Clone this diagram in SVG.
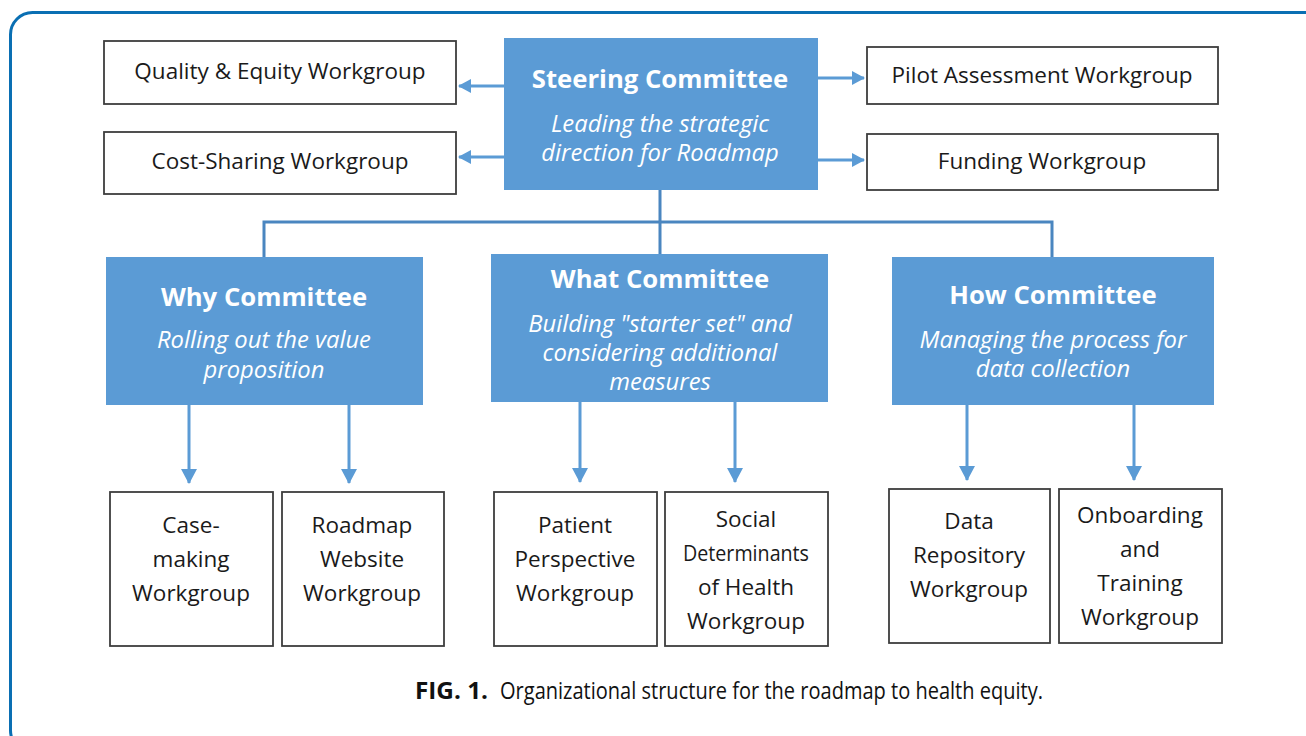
<svg xmlns="http://www.w3.org/2000/svg" width="1306" height="736" viewBox="0 0 1306 736">
<style>
.wg{fill:#fff;stroke:#3d3d3d;stroke-width:1.8}
.cm{fill:#5b9bd5;stroke:none}
.t{font-family:"Open Sans","Noto Sans","Liberation Sans",sans-serif;font-size:22.5px;fill:#1a1a1a;text-anchor:middle}
.h{font-family:"Open Sans","Noto Sans","Liberation Sans",sans-serif;font-size:25.7px;font-weight:bold;fill:#fff;text-anchor:middle}
.s{font-family:"Open Sans","Noto Sans","Liberation Sans",sans-serif;font-size:23.8px;font-style:italic;fill:#fff;text-anchor:middle}
.ar{fill:none;stroke:#5b9bd5;stroke-width:3}
.tr{fill:none;stroke:#4a86c0;stroke-width:3}
.cap{font-family:"Open Sans","Noto Sans","Liberation Sans",sans-serif;font-size:23px;fill:#111}
</style>
<defs>
<marker id="ah" markerUnits="userSpaceOnUse" markerWidth="18" markerHeight="18" refX="14" refY="9" orient="auto">
<path d="M0,1 L15,9 L0,17 Z" fill="#5b9bd5"/>
</marker>
<marker id="ahs" markerUnits="userSpaceOnUse" markerWidth="16" markerHeight="16" refX="12" refY="7" orient="auto">
<path d="M0,0 L13,7 L0,14 Z" fill="#5b9bd5"/>
</marker>
</defs>
<rect x="0" y="0" width="1306" height="736" fill="#fff"/>
<rect x="10.5" y="12.5" width="1316" height="740" rx="22" fill="none" stroke="#0a6fb3" stroke-width="3"/>

<g id="connectors">
<line class="ar" x1="504" y1="86" x2="459" y2="86" marker-end="url(#ahs)"/>
<line class="ar" x1="504" y1="157" x2="459" y2="157" marker-end="url(#ahs)"/>
<line class="ar" x1="818" y1="78" x2="864" y2="78" marker-end="url(#ahs)"/>
<line class="ar" x1="818" y1="160" x2="864" y2="160" marker-end="url(#ahs)"/>
<path class="tr" d="M660,190 V254 M264,257 V222 H1052 V257"/>
<line class="ar" x1="189" y1="405" x2="189" y2="483" marker-end="url(#ah)"/>
<line class="ar" x1="349" y1="405" x2="349" y2="483" marker-end="url(#ah)"/>
<line class="ar" x1="580" y1="402" x2="580" y2="482" marker-end="url(#ah)"/>
<line class="ar" x1="735" y1="402" x2="735" y2="482" marker-end="url(#ah)"/>
<line class="ar" x1="967" y1="405" x2="967" y2="480" marker-end="url(#ah)"/>
<line class="ar" x1="1134" y1="405" x2="1134" y2="480" marker-end="url(#ah)"/>
</g>

<g id="steering">
<rect class="cm" x="504" y="38" width="314" height="152"/>
<text class="h" x="660" y="88">Steering Committee</text>
<text class="s" x="660" y="132">Leading the strategic</text>
<text class="s" x="660" y="161">direction for Roadmap</text>
</g>
<g id="quality">
<rect class="wg" x="104" y="41" width="352" height="63"/>
<text class="t" x="280" y="79">Quality &amp; Equity Workgroup</text>
</g>
<g id="costsharing">
<rect class="wg" x="104" y="132" width="352" height="62"/>
<text class="t" x="280" y="169">Cost-Sharing Workgroup</text>
</g>
<g id="pilot">
<rect class="wg" x="867" y="47" width="351" height="57"/>
<text class="t" x="1042" y="83">Pilot Assessment Workgroup</text>
</g>
<g id="funding">
<rect class="wg" x="867" y="134" width="351" height="56"/>
<text class="t" x="1042" y="169">Funding Workgroup</text>
</g>

<g id="why">
<rect class="cm" x="106" y="257" width="317" height="148"/>
<text class="h" x="264" y="306">Why Committee</text>
<text class="s" x="264" y="348">Rolling out the value</text>
<text class="s" x="264" y="378">proposition</text>
</g>
<g id="what">
<rect class="cm" x="491" y="254" width="337" height="148"/>
<text class="h" x="660" y="288">What Committee</text>
<text class="s" x="660" y="332">Building "starter set" and</text>
<text class="s" x="660" y="361">considering additional</text>
<text class="s" x="660" y="390">measures</text>
</g>
<g id="how">
<rect class="cm" x="892" y="257" width="322" height="148"/>
<text class="h" x="1053" y="304">How Committee</text>
<text class="s" x="1053" y="348">Managing the process for</text>
<text class="s" x="1053" y="377">data collection</text>
</g>

<g id="casemaking">
<rect class="wg" x="110" y="492" width="163" height="154"/>
<text class="t" x="191" y="533">Case-</text>
<text class="t" x="191" y="567">making</text>
<text class="t" x="191" y="601">Workgroup</text>
</g>
<g id="website">
<rect class="wg" x="282" y="492" width="162" height="154"/>
<text class="t" x="362" y="533">Roadmap</text>
<text class="t" x="362" y="567">Website</text>
<text class="t" x="362" y="601">Workgroup</text>
</g>
<g id="patient">
<rect class="wg" x="494" y="492" width="163" height="154"/>
<text class="t" x="575" y="533">Patient</text>
<text class="t" x="575" y="567">Perspective</text>
<text class="t" x="575" y="601">Workgroup</text>
</g>
<g id="social">
<rect class="wg" x="665" y="492" width="163" height="154"/>
<text class="t" x="746" y="527">Social</text>
<text class="t" x="746" y="561" textLength="126" lengthAdjust="spacingAndGlyphs">Determinants</text>
<text class="t" x="746" y="595">of Health</text>
<text class="t" x="746" y="629">Workgroup</text>
</g>
<g id="repository">
<rect class="wg" x="889" y="489" width="161" height="154"/>
<text class="t" x="969" y="529">Data</text>
<text class="t" x="969" y="563">Repository</text>
<text class="t" x="969" y="597">Workgroup</text>
</g>
<g id="onboarding">
<rect class="wg" x="1059" y="489" width="163" height="154"/>
<text class="t" x="1140" y="523">Onboarding</text>
<text class="t" x="1140" y="557">and</text>
<text class="t" x="1140" y="591">Training</text>
<text class="t" x="1140" y="625">Workgroup</text>
</g>

<g id="caption">
<text class="cap" x="415" y="699" font-weight="bold" textLength="73" lengthAdjust="spacingAndGlyphs">FIG. 1.</text>
<text class="cap" x="500" y="699" textLength="543" lengthAdjust="spacingAndGlyphs">Organizational structure for the roadmap to health equity.</text>
</g>
</svg>
